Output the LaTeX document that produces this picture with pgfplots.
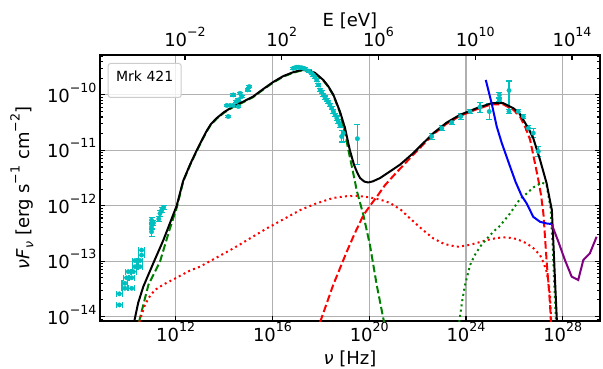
\documentclass[border=0pt]{standalone}
\usepackage{fontspec}
\setmainfont{DejaVu Sans}
\usepackage{pgfplots}
\pgfplotsset{compat=1.18}
\definecolor{mcyan}{rgb}{0,0.75,0.75}
\definecolor{mgreen}{rgb}{0,0.5,0}
\definecolor{mpurple}{rgb}{0.5,0,0.5}
\definecolor{gridgray}{rgb}{0.69,0.69,0.69}
\definecolor{legedge}{rgb}{0.8,0.8,0.8}
\newcommand{\su}[1]{\raisebox{0.55em}{\fontsize{12.6bp}{14bp}\selectfont #1}}
\newcommand{\subs}[1]{\raisebox{-0.22em}{\fontsize{12.6bp}{14bp}\selectfont #1}}
\newcommand{\tkl}[1]{10\su{#1}}
\newcommand{\bigf}{\fontsize{18bp}{20bp}\selectfont}
\pgfplotsset{
 common/.style={scale only axis, width=500bp, height=266bp, tick align=inside,
   major tick length=5bp, minor tick length=2.8bp,
   every tick/.append style={black, line width=1.1bp},
   axis line style={line width=1.1bp},
   ticklabel style={font=\bigf, inner sep=0pt},
 },
 dat/.style={mcyan, only marks, mark=*, mark size=2.2bp, mark options={mcyan},
   error bars/error bar style={line width=1.1bp, mcyan},
   error bars/error mark options={mcyan, mark size=3bp, line width=1.1bp, rotate=90}},
 crv/.style={line width=2bp},
 dashd/.style={line width=2bp, dash pattern=on 7.5bp off 3.2bp},
 dotd/.style={line width=2bp, dash pattern=on 2bp off 3.3bp},
}
\begin{document}
\begin{tikzpicture}
\useasboundingbox (-100bp,-48bp) rectangle (503bp,321bp);
\begin{axis}[common,
 xmin=8.87, xmax=29.54, ymin=-14.08, ymax=-9.28,
 xtick={12,16,20,24,28},
 xticklabels={\tkl{12},\tkl{16},\tkl{20},\tkl{24},\tkl{28}},
 ytick={-14,-13,-12,-11,-10},
 yticklabels={\tkl{−14},\tkl{−13},\tkl{−12},\tkl{−11},\tkl{−10}},
 minor ytick={-14.04576,
 -13.69897,-13.52288,-13.39794,-13.30103,-13.22185,-13.15490,-13.09691,-13.04576,
 -12.69897,-12.52288,-12.39794,-12.30103,-12.22185,-12.15490,-12.09691,-12.04576,
 -11.69897,-11.52288,-11.39794,-11.30103,-11.22185,-11.15490,-11.09691,-11.04576,
 -10.69897,-10.52288,-10.39794,-10.30103,-10.22185,-10.15490,-10.09691,-10.04576,
 -9.69897,-9.52288,-9.39794,-9.30103},
 xtick pos=bottom, ytick pos=both, yticklabel pos=left,
 xticklabel style={anchor=base, yshift=-20.7bp},
 yticklabel style={anchor=base east, yshift=-7.5bp, xshift=-3.3bp},
 grid=major, major grid style={gridgray, line width=1.1bp},
 xlabel={\textit{ν} [Hz]},
 ylabel={\textit{ν}\textit{F}\subs{\textit{ν}} [erg s\su{−1} cm\su{−2}]},
 every axis x label/.style={at={(axis description cs:0.5,-0.1617)}, anchor=base, font=\bigf, inner sep=0pt},
 every axis y label/.style={at={(axis description cs:-0.141,0.5)}, anchor=base, rotate=90, font=\bigf, inner sep=0pt},
]
% radio points (x errors)
\addplot[dat, error bars/x dir=both, error bars/x explicit] table[x index=0, y index=1, x error index=2] {
9.67 -13.79 0.12
9.67 -13.59 0.12
9.90 -13.49 0.12
10.18 -13.49 0.12
9.90 -13.40 0.12
9.97 -13.30 0.12
10.18 -13.30 0.12
10.04 -13.19 0.12
10.25 -13.19 0.12
10.32 -13.10 0.12
10.52 -13.10 0.12
10.32 -12.99 0.12
10.52 -12.99 0.12
10.59 -12.89 0.12
10.59 -12.80 0.12
};
% IR to gamma points (y errors)
\addplot[dat, error bars/y dir=both, error bars/y explicit] table[x index=0, y index=1, y error plus index=2, y error minus index=3] {
11.00 -12.47 0.06 0.08
11.00 -12.38 0.05 0.05
11.00 -12.26 0.05 0.05
11.08 -12.31 0.04 0.04
11.30 -12.24 0.05 0.05
11.35 -12.14 0.05 0.05
11.42 -12.08 0.04 0.04
11.50 -12.03 0.04 0.04
14.17 -10.39 0.02 0.02
14.11 -10.19 0.02 0.02
14.25 -10.19 0.02 0.02
14.38 -10.19 0.02 0.02
14.59 -10.21 0.02 0.02
14.38 -10.00 0.02 0.02
14.66 -9.97 0.02 0.02
14.73 -10.03 0.02 0.02
14.59 -10.09 0.02 0.02
14.50 -10.12 0.02 0.02
14.97 -9.91 0.02 0.02
15.04 -9.85 0.02 0.02
16.86 -9.52 0.02 0.02
16.93 -9.51 0.02 0.02
17.00 -9.50 0.02 0.02
17.07 -9.50 0.02 0.02
17.14 -9.51 0.02 0.02
17.21 -9.51 0.02 0.02
17.28 -9.52 0.02 0.02
17.35 -9.53 0.02 0.02
17.50 -9.57 0.02 0.02
17.62 -9.61 0.02 0.02
17.69 -9.64 0.02 0.02
17.76 -9.68 0.02 0.02
17.83 -9.73 0.03 0.03
17.90 -9.82 0.03 0.03
17.97 -9.91 0.03 0.03
18.04 -9.95 0.03 0.03
18.10 -10.00 0.03 0.03
18.17 -10.05 0.03 0.03
18.24 -10.09 0.03 0.03
18.31 -10.13 0.03 0.03
18.38 -10.18 0.03 0.03
18.45 -10.24 0.03 0.03
18.52 -10.30 0.03 0.03
18.59 -10.36 0.03 0.03
18.66 -10.42 0.04 0.04
18.72 -10.48 0.04 0.04
18.79 -10.54 0.05 0.05
18.86 -10.75 0.10 0.10
18.93 -10.69 0.12 0.15
19.51 -10.79 0.25 0.47
22.58 -10.75 0.05 0.05
23.00 -10.60 0.05 0.05
23.41 -10.50 0.04 0.04
23.78 -10.39 0.06 0.06
24.17 -10.30 0.03 0.03
24.58 -10.22 0.09 0.09
24.96 -10.30 0.15 0.15
25.38 -10.00 0.04 0.04
25.38 -10.09 0.03 0.03
25.78 -9.92 0.17 0.35
25.78 -10.30 0.03 0.03
26.16 -10.30 0.03 0.03
26.37 -10.39 0.04 0.04
26.58 -10.60 0.05 0.05
26.78 -10.69 0.08 0.08
26.99 -11.02 0.09 0.09
};
% synchrotron (green dashed)
\addplot[mgreen, dashd] table {
10.48 -14.10
10.87 -13.43
11.35 -13.01
11.76 -12.41
12.04 -12.04
12.31 -11.56
12.60 -11.26
12.87 -11.01
13.10 -10.81
13.28 -10.66
13.45 -10.54
13.69 -10.43
14.00 -10.32
14.37 -10.22
14.80 -10.13
15.20 -10.04
15.60 -9.91
16.02 -9.78
16.45 -9.67
16.86 -9.60
17.15 -9.565
17.42 -9.56
17.75 -9.61
18.10 -9.74
18.30 -9.85
18.52 -10.01
18.79 -10.32
19.00 -10.68
19.13 -10.98
19.41 -11.56
19.48 -11.72
19.76 -12.17
20.03 -12.71
20.31 -13.43
20.58 -14.03
20.63 -14.12
};
% red dashed
\addplot[red, dashd] table {
17.97 -14.10
18.51 -13.43
19.07 -12.83
19.40 -12.50
19.76 -12.17
20.05 -11.99
20.31 -11.84
20.65 -11.63
21.00 -11.46
21.30 -11.32
21.82 -11.08
22.65 -10.71
23.20 -10.52
23.75 -10.38
24.44 -10.26
25.06 -10.17
25.54 -10.17
25.96 -10.27
26.23 -10.39
26.45 -10.58
26.65 -10.81
26.85 -11.23
26.99 -11.53
27.10 -11.80
27.20 -12.14
27.34 -13.04
27.47 -13.75
27.51 -14.10
};
% red dotted
\addplot[red, dotd] table {
10.50 -14.10
10.70 -13.82
10.87 -13.67
11.14 -13.52
11.50 -13.42
11.90 -13.33
12.59 -13.17
13.00 -13.10
14.38 -12.77
15.76 -12.41
17.14 -12.08
17.80 -11.96
18.51 -11.86
19.00 -11.83
19.48 -11.82
20.03 -11.85
20.45 -11.89
20.86 -11.95
21.30 -12.07
21.69 -12.23
22.20 -12.43
22.65 -12.59
23.10 -12.69
23.62 -12.74
24.00 -12.72
24.30 -12.69
24.86 -12.62
25.30 -12.58
25.68 -12.57
26.10 -12.60
26.51 -12.68
26.80 -12.77
27.06 -12.89
27.20 -13.02
27.33 -13.19
27.42 -13.40
27.47 -13.61
27.50 -13.85
27.52 -14.10
};
% green dotted
\addplot[mgreen, dotd] table {
23.72 -14.10
23.85 -13.70
23.96 -13.43
24.17 -13.07
24.35 -12.90
24.58 -12.74
24.85 -12.60
25.13 -12.47
25.41 -12.36
25.82 -12.14
26.23 -11.88
26.51 -11.78
26.78 -11.67
26.99 -11.62
27.13 -11.58
27.33 -11.62
27.50 -12.05
27.58 -12.70
27.65 -13.40
27.72 -14.10
};
% total (black)
\addplot[black, crv] table {
10.28 -14.10
10.45 -13.75
10.66 -13.46
11.07 -13.04
11.49 -12.62
12.04 -12.00
12.31 -11.55
12.60 -11.25
12.87 -11.00
13.10 -10.80
13.28 -10.65
13.45 -10.53
13.69 -10.42
14.00 -10.31
14.37 -10.21
14.80 -10.12
15.20 -10.03
15.60 -9.90
16.02 -9.77
16.45 -9.66
16.86 -9.59
17.15 -9.555
17.42 -9.55
17.75 -9.60
18.10 -9.73
18.30 -9.84
18.52 -10.00
18.79 -10.30
19.00 -10.60
19.20 -11.00
19.37 -11.26
19.50 -11.40
19.62 -11.50
19.80 -11.565
19.96 -11.58
20.15 -11.56
20.45 -11.50
20.86 -11.38
21.27 -11.26
21.82 -11.05
22.65 -10.69
23.20 -10.50
23.75 -10.36
24.44 -10.24
25.06 -10.15
25.54 -10.15
25.96 -10.24
26.20 -10.33
26.37 -10.45
26.60 -10.62
26.78 -10.78
27.06 -11.17
27.33 -11.59
27.55 -12.08
27.62 -12.74
27.68 -13.34
27.76 -14.10
};
% blue sensitivity
\addplot[blue, crv] table {
24.82 -9.73
25.06 -10.15
25.27 -10.57
25.48 -10.87
25.82 -11.29
26.05 -11.57
26.30 -11.82
26.51 -11.96
26.78 -12.20
27.06 -12.29
27.33 -12.32
27.54 -12.33
};
% purple sensitivity
\addplot[mpurple, crv] table {
27.54 -12.33
27.82 -12.65
28.09 -12.98
28.37 -13.28
28.64 -13.34
28.85 -12.98
29.12 -12.86
29.40 -12.56
};
\node[anchor=north west, draw=legedge, line width=1bp, fill=white, fill opacity=0.8, text opacity=1,
  rounded corners=2.5bp, minimum width=73bp, minimum height=34bp, inner sep=0pt, text depth=8bp,
  font=\fontsize{14bp}{16bp}\selectfont] at (rel axis cs:0.0154,0.970) {Mrk 421};
\end{axis}
\begin{axis}[common,
 xmin=-5.5135, xmax=15.1565, ymin=0, ymax=1,
 axis x line*=top, axis y line=none, grid=none,
 xtick={-2,2,6,10,14},
 xticklabels={\tkl{−2},\tkl{2},\tkl{6},\tkl{10},\tkl{14}},
 xticklabel style={anchor=base, yshift=8.3bp},
 xlabel={E [eV]},
 every axis x label/.style={at={(axis description cs:0.5,1.109)}, anchor=base, font=\bigf, inner sep=0pt},
]
\end{axis}
\end{tikzpicture}
\end{document}
